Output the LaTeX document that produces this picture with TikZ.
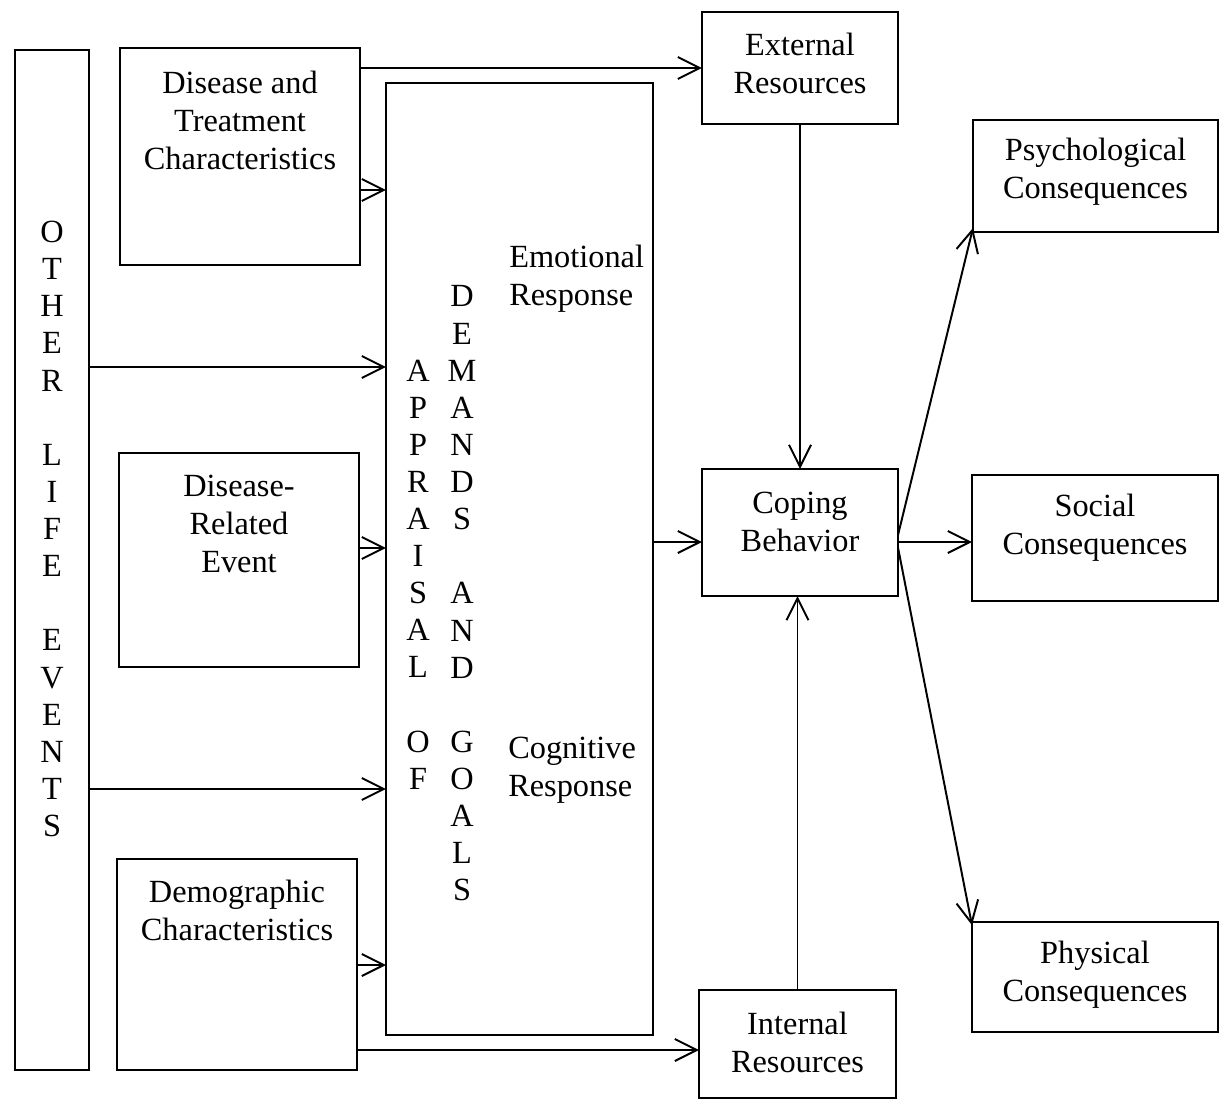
\documentclass[tikz,border=0pt]{standalone}
\usepackage{fontspec}
\setmainfont{Liberation Serif}
\usetikzlibrary{arrows.meta}
\begin{document}
\begin{tikzpicture}[x=0.025cm,y=-0.025cm,
  box/.style={draw,line width=1.4pt,inner sep=0pt,outer sep=0pt},
  txt/.style={align=center,inner sep=0pt,font=\fontsize{23}{27}\selectfont},
  txtl/.style={align=left,inner sep=0pt,anchor=west,font=\fontsize{23}{27}\selectfont},
  col/.style={align=center,inner sep=0pt,font=\fontsize{23}{26.4}\selectfont},
  arr/.style={line width=1.4pt,-{Straight Barb[length=0.55cm,width=0.55cm,line width=1.4pt]}}]
\useasboundingbox[fill=white] (0,0) rectangle (1223,1100);
% boxes
\node[box,minimum width=1.85cm,minimum height=25.5cm] (ole) at (52,560) {};
\node[box,minimum width=6cm,minimum height=5.425cm] (dis) at (240,156.5) {};
\node[box,minimum width=6cm,minimum height=5.35cm] (dre) at (239,560) {};
\node[box,minimum width=6cm,minimum height=5.275cm] (dem) at (237,964.5) {};
\node[box,minimum width=6.675cm,minimum height=23.8cm] (app) at (519.5,559) {};
\node[box,minimum width=4.9cm,minimum height=2.8cm] (ext) at (800,68) {};
\node[box,minimum width=4.9cm,minimum height=3.175cm] (cop) at (800,532.5) {};
\node[box,minimum width=4.925cm,minimum height=2.7cm] (int) at (797.5,1044) {};
\node[box,minimum width=6.125cm,minimum height=2.8cm] (psy) at (1095.5,176) {};
\node[box,minimum width=6.15cm,minimum height=3.15cm] (soc) at (1095,538) {};
\node[box,minimum width=6.15cm,minimum height=2.75cm] (phy) at (1095,977) {};
% texts
\node[col] (oletxt) at (52,529) {O\\T\\H\\E\\R\\\mbox{}\\L\\I\\F\\E\\\mbox{}\\E\\V\\E\\N\\T\\S};
\node[txt] (distxt) at (240,120) {Disease and\\Treatment\\Characteristics};
\node[txt] (dretxt) at (239,523.5) {Disease-\\Related\\Event};
\node[txt] (demtxt) at (237,910.5) {Demographic\\Characteristics};
\node[col] (apptxt) at (418,574.5) {A\\P\\P\\R\\A\\I\\S\\A\\L\\\mbox{}\\O\\F};
\node[col] (demandtxt) at (462,593.5) {D\\E\\M\\A\\N\\D\\S\\\mbox{}\\A\\N\\D\\\mbox{}\\G\\O\\A\\L\\S};
\node[txtl] (emotxt) at (509,279) {Emotional\\Response};
\node[txtl] (cogtxt) at (508,770) {Cognitive\\Response};
\node[txt] (exttxt) at (800,63) {External\\Resources};
\node[txt] (coptxt) at (800,522) {Coping\\Behavior};
\node[txt] (inttxt) at (797.5,1042) {Internal\\Resources};
\node[txt] (psytxt) at (1095.5,172) {Psychological\\Consequences};
\node[txt] (soctxt) at (1095,527.5) {Social\\Consequences};
\node[txt] (phytxt) at (1095,974.5) {Physical\\Consequences};
% helper coordinates
\coordinate (y190) at (0,190);
\coordinate (y367) at (0,367);
\coordinate (y548) at (0,548);
\coordinate (y789) at (0,789);
\coordinate (y965) at (0,965);
\coordinate (y1050) at (0,1050);
\coordinate (y542) at (0,542);
% connectors
\draw[arr] (dis.east |- ext.west) -- (ext.west);
\draw[arr] (dis.east |- y190) -- (app.west |- y190);
\draw[arr] (ole.east |- y367) -- (app.west |- y367);
\draw[arr] (dre.east |- y548) -- (app.west |- y548);
\draw[arr] (ole.east |- y789) -- (app.west |- y789);
\draw[arr] (dem.east |- y965) -- (app.west |- y965);
\draw[arr] (dem.east |- y1050) -- (int.west |- y1050);
\draw[arr] (app.east |- y542) -- (cop.west |- y542);
\draw[arr] (ext.south) -- (cop.north);
\draw[arr] (int.north) -- (int.north |- cop.south);
\draw[arr] ([yshift=-0.06cm]cop.east) -- ([yshift=0.1cm]psy.south west);
\draw[arr] (cop.east |- y542) -- (soc.west |- y542);
\draw[arr] ([yshift=-0.38cm]cop.east) -- ([yshift=-0.08cm]phy.north west);
\end{tikzpicture}
\end{document}
